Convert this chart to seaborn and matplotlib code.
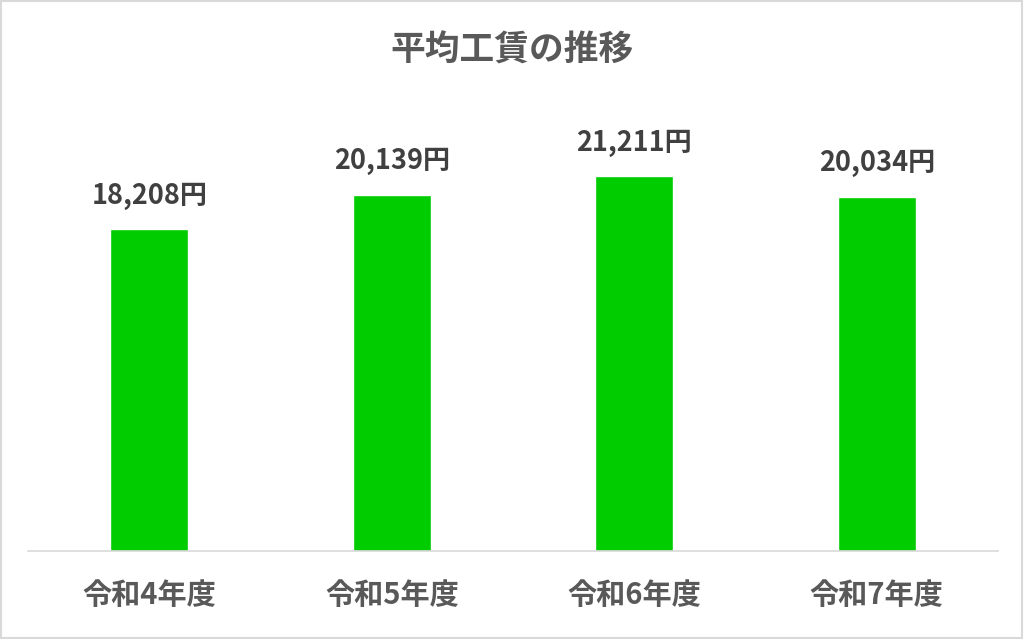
import pandas as pd
import matplotlib
matplotlib.use("Agg")
import matplotlib.pyplot as plt
import seaborn as sns

years = ["令和4年度", "令和5年度", "令和6年度", "令和7年度"]
wages = [18208, 20139, 21211, 20034]

df = pd.DataFrame({"year": years, "wage": wages})

sns.set_style("white")
plt.rcParams['font.family'] = ['Noto Sans CJK JP', 'DejaVu Sans']

fig = plt.figure(figsize=(10.24, 6.39), dpi=100)
ax = fig.add_axes([28 / 1024, 88 / 639, 970 / 1024, 442 / 639])

sns.barplot(data=df, x="year", y="wage", color="#00CC00", width=0.32,
            saturation=1, ax=ax)

ax.set_ylim(0, 25000)
ax.set_xlim(-0.5, 3.5)
ax.set_xlabel("")
ax.set_ylabel("")
ax.set_yticks([])
for s in ["top", "right", "left"]:
    ax.spines[s].set_visible(False)
ax.spines["bottom"].set_color("#D9D9D9")
ax.spines["bottom"].set_linewidth(1.2)
ax.tick_params(axis="x", length=0, pad=21, labelsize=21, labelcolor="#595959")
for lbl in ax.get_xticklabels():
    lbl.set_fontweight("bold")

for i, v in enumerate(wages):
    ax.annotate(f"{v:,}円", (i, v), xytext=(0, 14), textcoords="offset points",
                ha="center", va="bottom", fontsize=19.5, fontweight="bold",
                color="#404040")

fig.text(0.5, 1 - 50 / 639, "平均工賃の推移", ha="center", va="center",
         fontsize=25, fontweight="bold", color="#595959")

border = plt.Rectangle((0.001, 0.002), 0.997, 0.996, transform=fig.transFigure,
                       fill=False, edgecolor="#D9D9D9", linewidth=1.5)
fig.patches.append(border)

fig.savefig("out.png", dpi=100)
